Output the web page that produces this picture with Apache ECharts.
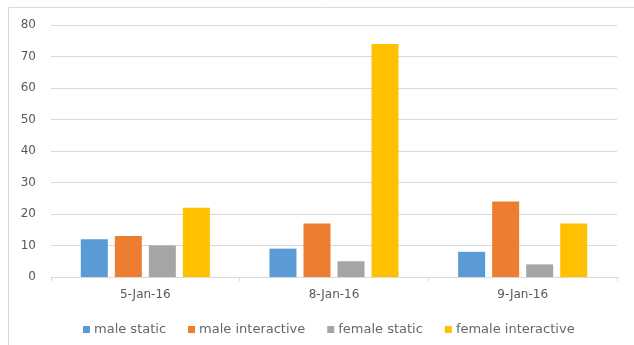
<!DOCTYPE html>
<html>
<head>
<meta charset="utf-8">
<script src="https://cdn.jsdelivr.net/npm/echarts@6/dist/echarts.min.js"></script>
<style>
  html, body { margin: 0; padding: 0; background: #fff; }
  #chart { width: 634px; height: 345px; }
</style>
</head>
<body>
<div id="chart"></div>
<script>
const categories = ['5-Jan-16', '8-Jan-16', '9-Jan-16']
const seriesNames = ['male static', 'male interactive', 'female static', 'female interactive']
const maleStatic = [12, 9, 8]
const maleInteractive = [13, 17, 24]
const femaleStatic = [10, 5, 4]
const femaleInteractive = [22, 74, 17]
const yTicks = [0, 10, 20, 30, 40, 50, 60, 70, 80]

const colors = ['#5B9BD5', '#ED7D31', '#A5A5A5', '#FFC000']
const values = [maleStatic, maleInteractive, femaleStatic, femaleInteractive]

const chart = echarts.init(document.getElementById('chart'))

const options = {
  animation: false,
  color: colors,
  textStyle: { fontFamily: 'DejaVu Sans' },
  graphic: [{
    type: 'rect',
    shape: { x: 8.5, y: 7.5, width: 700, height: 400 },
    style: { fill: 'none', stroke: '#d9d9d9', lineWidth: 1 },
    silent: true,
  }],
  grid: {
    left: 51,
    right: 17,
    top: 25,
    bottom: 68,
    containLabel: false,
  },
  legend: {
    data: seriesNames,
    left: 78,
    top: 318,
    itemWidth: 7,
    itemHeight: 7,
    itemGap: 22,
    icon: 'rect',
    textStyle: { color: '#666666', fontSize: 13, fontFamily: 'DejaVu Sans', padding: [0, 0, 0, -1] },
  },
  xAxis: {
    type: 'category',
    data: categories,
    axisLine: { lineStyle: { color: '#d9d9d9', width: 1 } },
    axisTick: { show: true, length: 4, lineStyle: { color: '#d9d9d9' } },
    axisLabel: { color: '#595959', fontSize: 12, margin: 12 },
  },
  yAxis: {
    type: 'value',
    min: yTicks[0],
    max: yTicks[yTicks.length - 1],
    interval: 10,
    axisLine: { show: false },
    axisTick: { show: false },
    axisLabel: { color: '#595959', fontSize: 12, margin: 15 },
    splitLine: { lineStyle: { color: '#d9d9d9', width: 1 } },
  },
  series: seriesNames.map((name, i) => ({
    name,
    type: 'bar',
    data: values[i],
    barWidth: 27,
    barGap: '26%',
    itemStyle: { color: colors[i] },
  })),
}

chart.setOption(options)
</script>
</body>
</html>
